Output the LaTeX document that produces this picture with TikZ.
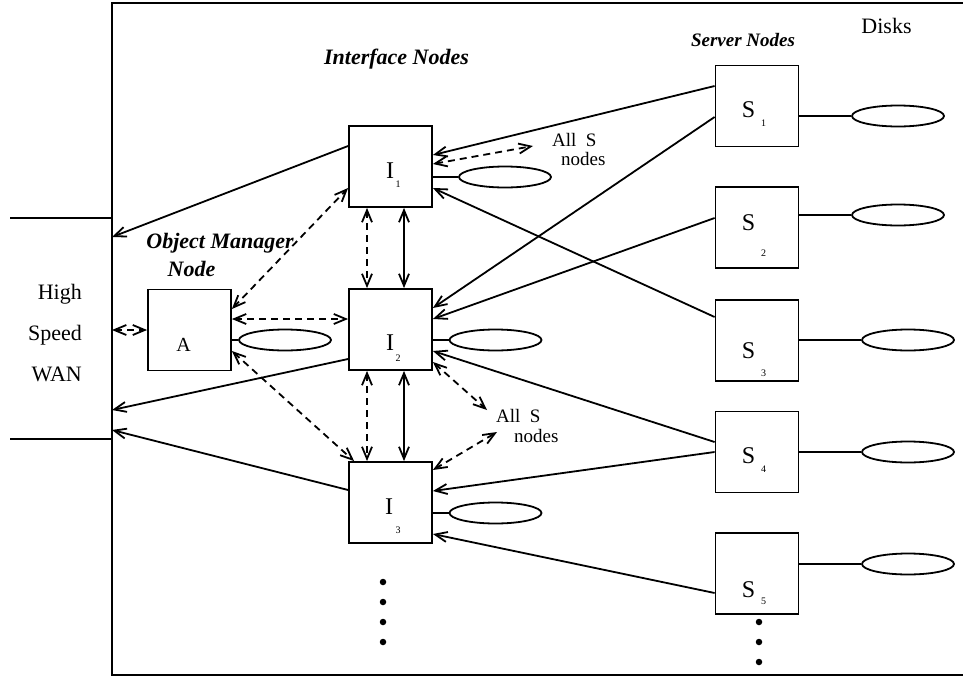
\documentclass[tikz,border=0pt]{standalone}
\usepackage{fontspec}
\setmainfont{Liberation Serif}
\usetikzlibrary{arrows.meta,shapes.geometric}
\begin{document}
\begin{tikzpicture}[x=1pt,y=-1pt,
  >={Straight Barb[length=12pt,width=10pt]},
  lw/.style={line width=1.8pt},
  conn/.style={lw,->},
  dconn/.style={lw,<->,dash pattern=on 7pt off 5pt},
  bconn/.style={lw,<->},
  plain/.style={lw},
  boxnode/.style={draw,lw,rectangle,minimum width=83pt,minimum height=81pt,inner sep=0pt},
  disk/.style={draw,lw,ellipse,minimum width=92pt,minimum height=21pt,inner sep=0pt},
  dot/.style={circle,fill=black,minimum size=6.5pt,inner sep=0pt},
  big/.style={font=\fontsize{24}{28}\selectfont,inner sep=0pt},
  mid/.style={font=\fontsize{22}{26}\selectfont,inner sep=0pt},
  amid/.style={font=\fontsize{20}{24}\selectfont,inner sep=0pt},
  small/.style={font=\fontsize{19}{22}\selectfont,inner sep=0pt},
  sub/.style={font=\fontsize{10}{12}\selectfont,inner sep=0pt},
  lbl/.style={font=\fontsize{22}{26}\selectfont\bfseries\itshape,inner sep=0pt},
  slbl/.style={font=\fontsize{19}{22}\selectfont\bfseries\itshape,inner sep=0pt}
]
\useasboundingbox (0,0) rectangle (963,677);
% frame
\draw[line width=2.2pt] (965,3) -- (112,3) -- (112,675) -- (965,675);
% WAN lines
\coordinate (wl1a) at (10,218); \coordinate (wl1b) at (112,218);
\coordinate (wl2a) at (10,439); \coordinate (wl2b) at (112,439);
\draw[plain] (wl1a) -- (wl1b);
\draw[plain] (wl2a) -- (wl2b);
\node[mid,anchor=base east] (high) at (82,299) {High};
\node[mid,anchor=base east] (speed) at (82,340) {Speed};
\node[mid,anchor=base east] (wan) at (82,381) {WAN};

% boxes
\node[boxnode] (I1) at (390.5,166.5) {};
\node[boxnode] (I2) at (390.5,329.5) {};
\node[boxnode] (I3) at (390.5,502.5) {};
\node[boxnode] (A) at (189.5,330) {};
\node[boxnode] (S1) at (757,106) {};
\node[boxnode] (S2) at (757,227.5) {};
\node[boxnode] (S3) at (757,340.5) {};
\node[boxnode] (S4) at (757,452) {};
\node[boxnode] (S5) at (757,573.5) {};

% box letters
\node[big,anchor=base] (tI1) at (390,178) {I};
\node[sub,anchor=base] (sI1) at (398,187) {1};
\node[big,anchor=base] (tI2) at (390,350) {I};
\node[sub,anchor=base] (sI2) at (398,361) {2};
\node[big,anchor=base] (tI3) at (389,514) {I};
\node[sub,anchor=base] (sI3) at (398,533) {3};
\node[amid,anchor=base] (tA) at (183.5,351) {A};
\node[big,anchor=base] (tS1) at (748.5,117) {S};
\node[sub,anchor=base] (sS1) at (763.5,126) {1};
\node[big,anchor=base] (tS2) at (748.5,230) {S};
\node[sub,anchor=base] (sS2) at (763.5,256) {2};
\node[big,anchor=base] (tS3) at (748.5,358) {S};
\node[sub,anchor=base] (sS3) at (763.5,376) {3};
\node[big,anchor=base] (tS4) at (748.5,463) {S};
\node[sub,anchor=base] (sS4) at (763.5,472) {4};
\node[big,anchor=base] (tS5) at (748.5,597) {S};
\node[sub,anchor=base] (sS5) at (763.5,604) {5};

% disks
\node[disk] (DS1) at (898,116) {};
\node[disk] (DS2) at (898,215) {};
\node[disk] (DS3) at (908,340) {};
\node[disk] (DS4) at (908,452) {};
\node[disk] (DS5) at (908,564) {};
\node[disk] (DI1) at (505,177) {};
\node[disk] (DI2) at (495.5,340) {};
\node[disk] (DI3) at (495.5,513) {};
\node[disk] (DA) at (285,340) {};
\draw[plain] ([yshift=-10pt]S1.east) -- (DS1.west);
\draw[plain] ([yshift=12.5pt]S2.east) -- (DS2.west);
\draw[plain] ([yshift=0.5pt]S3.east) -- (DS3.west);
\draw[plain] (S4.east) -- (DS4.west);
\draw[plain] ([yshift=9.5pt]S5.east) -- (DS5.west);
\draw[plain] ([yshift=-10.5pt]I1.east) -- (DI1.west);
\draw[plain] ([yshift=-10.5pt]I2.east) -- (DI2.west);
\draw[plain] ([yshift=-10.5pt]I3.east) -- (DI3.west);
\draw[plain] ([yshift=-10pt]A.east) -- (DA.west);

% labels
\node[lbl,anchor=base] (lif) at (396.5,65) {Interface Nodes};
\node[slbl,anchor=base] (lsv) at (743,47) {Server Nodes};
\node[mid,anchor=base] (ldk) at (886.5,34) {Disks};
\node[lbl,anchor=base] (lom) at (220,248) {Object Manager};
\node[lbl,anchor=base] (lnd) at (191.5,276) {Node};
\node[small,anchor=base west] (as1) at (552,146) {All~~S};
\node[small,anchor=base west] (an1) at (561,165) {nodes};
\node[small,anchor=base west] (as2) at (496,422) {All~~S};
\node[small,anchor=base west] (an2) at (514,442) {nodes};

% coordinates on the WAN wall and label ends
\coordinate (w1) at (112,237);
\coordinate (w2) at (112,410);
\coordinate (w3) at (112,430);
\coordinate (wA) at (112,330);
\coordinate (allA) at (533,146);
\coordinate (allB) at (487,410);
\coordinate (allC) at (497,432);

% I -> WAN
\draw[conn] ([yshift=20.5pt]I1.west) -- (w1);
\draw[conn] ([yshift=-29.5pt]I2.west) -- (w2);
\draw[conn] ([yshift=12.5pt]I3.west) -- (w3);

% dashed double arrows
\draw[dconn] (wA) -- (A.west);
\draw[dconn] ([yshift=21pt]A.east) -- ([yshift=-21.5pt]I1.west);
\draw[dconn] ([yshift=11pt]A.east) -- ([yshift=10.5pt]I2.west);
\draw[dconn] ([yshift=-21pt]A.east) -- ([xshift=6pt]I3.north west);
\draw[dconn] ([xshift=-23.5pt]I1.south) -- ([xshift=-23.5pt]I2.north);
\draw[dconn] ([xshift=-23.5pt]I2.south) -- ([xshift=-23.5pt]I3.north);
\draw[dconn] ([yshift=2.5pt]I1.east) -- (allA);
\draw[dconn] ([yshift=-32.5pt]I2.east) -- (allB);
\draw[dconn] ([yshift=32.5pt]I3.east) -- (allC);

% solid double arrows
\draw[bconn] ([xshift=13.5pt]I1.south) -- ([xshift=13.5pt]I2.north);
\draw[bconn] ([xshift=13.5pt]I2.south) -- ([xshift=13.5pt]I3.north);

% S -> I
\draw[conn] ([yshift=20pt]S1.west) -- ([yshift=11.5pt]I1.east);
\draw[conn] ([yshift=-11pt]S1.west) -- ([yshift=21.5pt]I2.east);
\draw[conn] ([yshift=9.5pt]S2.west) -- ([yshift=10.5pt]I2.east);
\draw[conn] ([yshift=23.5pt]S3.west) -- ([yshift=-21.5pt]I1.east);
\draw[conn] ([yshift=10pt]S4.west) -- ([yshift=-21.5pt]I2.east);
\draw[conn] (S4.west) -- ([yshift=11.5pt]I3.east);
\draw[conn] ([yshift=-19.5pt]S5.west) -- ([yshift=-31.5pt]I3.east);

% dots
\node[dot] (d1) at (383,582) {};
\node[dot] (d2) at (383,602) {};
\node[dot] (d3) at (383,622) {};
\node[dot] (d4) at (383,642) {};
\node[dot] (e1) at (759,622) {};
\node[dot] (e2) at (759,642) {};
\node[dot] (e3) at (759,662) {};
\end{tikzpicture}
\end{document}
